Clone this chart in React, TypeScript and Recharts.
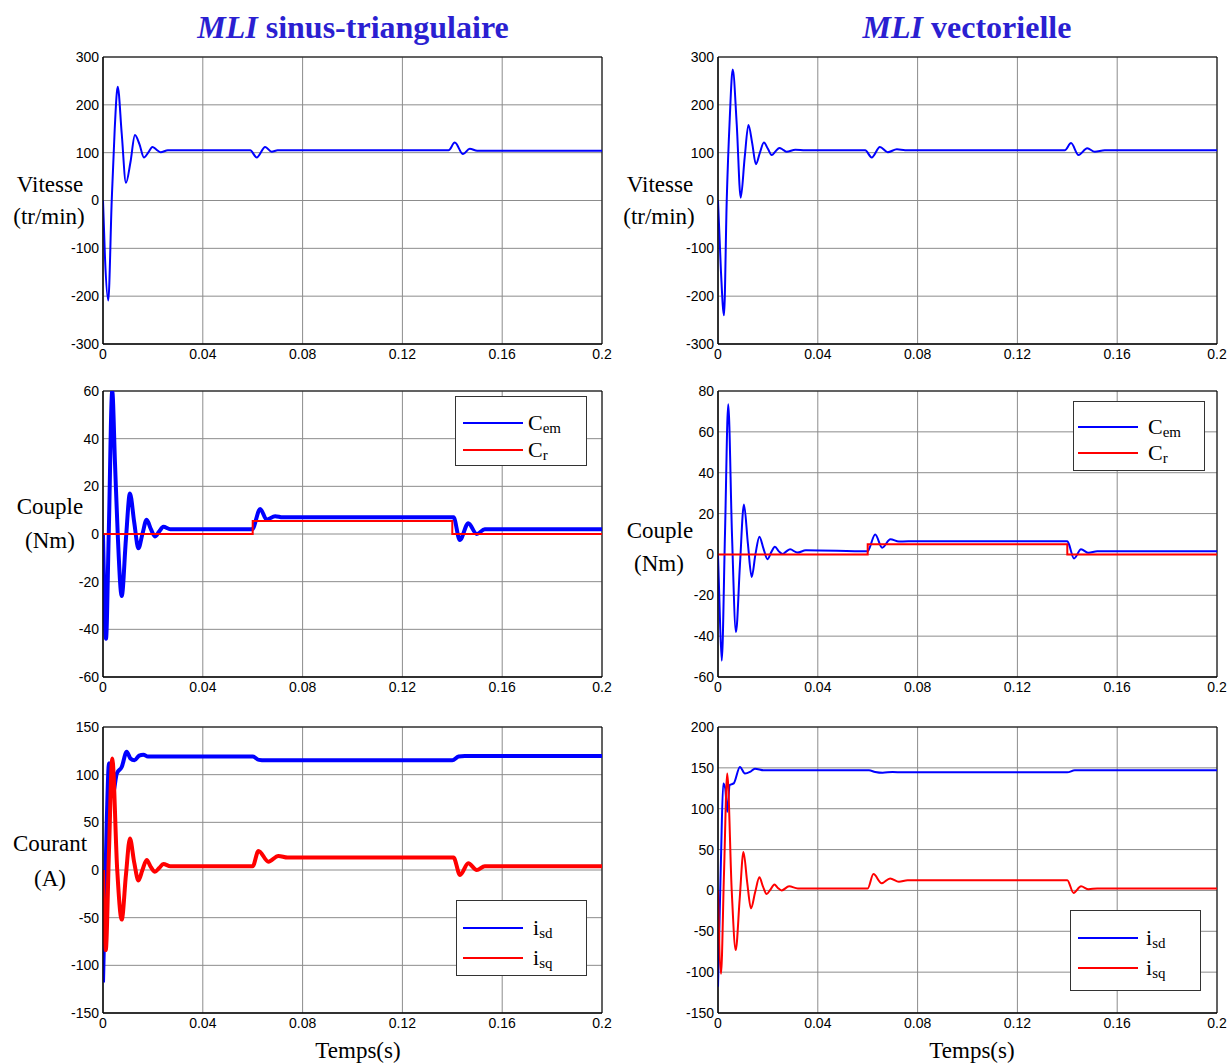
import { LineChart, Line, XAxis, YAxis, CartesianGrid, ReferenceArea } from 'recharts'

// time axis (s)
const timeTicks = [0, 0.04, 0.08, 0.12, 0.16, 0.2]

// y ticks
const speedTicks = [-300, -200, -100, 0, 100, 200, 300]
const torqueTicksL = [-60, -40, -20, 0, 20, 40, 60]
const torqueTicksR = [-60, -40, -20, 0, 20, 40, 60, 80]
const currentTicksL = [-150, -100, -50, 0, 50, 100, 150]
const currentTicksR = [-150, -100, -50, 0, 50, 100, 150, 200]

// MLI sinus-triangulaire : vitesse
const speedL_t = [0, 0.0008, 0.0021, 0.0035, 0.0047, 0.0059, 0.0075, 0.0092, 0.011, 0.0128, 0.0146, 0.0164, 0.0181, 0.0198, 0.0215, 0.0231, 0.026, 0.04, 0.059, 0.0616, 0.065, 0.0676, 0.07, 0.1, 0.1385, 0.141, 0.1443, 0.147, 0.15, 0.2]
const speedL_v = [0, -120, -209, 0, 150, 238, 140, 37, 80, 137, 118, 90, 100, 112, 106, 101, 105, 105, 105, 90, 112, 102, 105, 105, 105, 121, 97, 108, 104, 104]

// MLI vectorielle : vitesse
const speedR_t = [0, 0.0012, 0.0024, 0.0035, 0.0047, 0.0059, 0.0075, 0.0091, 0.0107, 0.0122, 0.0137, 0.0152, 0.0168, 0.0184, 0.02, 0.0215, 0.0231, 0.0246, 0.0261, 0.0275, 0.031, 0.035, 0.059, 0.0616, 0.0649, 0.068, 0.0717, 0.075, 0.139, 0.1415, 0.1445, 0.148, 0.151, 0.155, 0.2]
const speedR_v = [0, -150, -240, 0, 170, 274, 160, 6, 90, 158, 120, 76, 100, 121, 108, 95, 103, 110, 106, 102, 106, 105, 105, 90, 112, 101, 107, 105, 105, 120, 95, 109, 102, 105, 105]

// couple, sinus-triangulaire
const cemL_t = [0, 0.0006, 0.0012, 0.0023, 0.0037, 0.0048, 0.0059, 0.0075, 0.0092, 0.0108, 0.0125, 0.0142, 0.0158, 0.0175, 0.0192, 0.0208, 0.0225, 0.0242, 0.027, 0.0598, 0.063, 0.0656, 0.069, 0.072, 0.1405, 0.143, 0.1464, 0.1498, 0.153, 0.2]
const cemL_v = [0, -30, -44, 0, 60, 30, 0, -26, -2, 17, 5, -6, 0, 6, 2, -1, 1, 3, 2, 2, 10.5, 6, 7.5, 7, 7, -2.5, 4.5, 0, 2, 2]
const crL_t = [0, 0.06, 0.06, 0.14, 0.14, 0.2]
const crL_v = [0, 0, 5.5, 5.5, 0, 0]

// couple, vectorielle
const cemR_t = [0, 0.0005, 0.0015, 0.0028, 0.0041, 0.0056, 0.0072, 0.0088, 0.0104, 0.012, 0.0135, 0.015, 0.0166, 0.0182, 0.0198, 0.0213, 0.0228, 0.0244, 0.0259, 0.0274, 0.0289, 0.0318, 0.0352, 0.06, 0.0605, 0.063, 0.0658, 0.0691, 0.0725, 0.08, 0.14, 0.1405, 0.1427, 0.1455, 0.1485, 0.152, 0.2]
const cemR_v = [0, -20, -52, 10, 73.5, 10, -38, -5, 24.5, 5, -11, 0, 8.7, 3, -2.3, 1, 3.8, 1.5, 0.2, 1.5, 2.5, 0.9, 2, 1.5, 2.5, 9.8, 3.3, 7.4, 6.3, 6.5, 6.5, 5.5, -2, 2.5, 0.8, 1.5, 1.5]
const crR_t = [0, 0.06, 0.06, 0.14, 0.14, 0.2]
const crR_v = [0, 0, 5, 5, 0, 0]

// courants, sinus-triangulaire
const isdL_t = [0, 0.0015, 0.0024, 0.0032, 0.0041, 0.0055, 0.0075, 0.0095, 0.011, 0.0126, 0.0145, 0.0162, 0.018, 0.06, 0.0625, 0.065, 0.14, 0.1425, 0.145, 0.2]
const isdL_v = [-118, 50, 112, 108, 82, 101, 108, 124, 117, 115, 120, 121, 119, 119, 115.5, 115, 115, 119, 119.5, 119.5]
const isqL_t = [0, 0.0011, 0.0024, 0.0037, 0.0057, 0.0075, 0.0092, 0.0108, 0.0125, 0.0142, 0.0158, 0.0175, 0.0192, 0.0208, 0.0225, 0.0242, 0.027, 0.06, 0.0623, 0.0663, 0.0703, 0.074, 0.1405, 0.1431, 0.1464, 0.1498, 0.153, 0.2]
const isqL_v = [0, -84, 20, 117, 0, -52, -5, 33, 8, -11, 0, 10.5, 3, -1.8, 2, 6.3, 4, 4, 20, 8.7, 14.7, 13, 13, -5.2, 7, 0, 4, 4]

// courants, vectorielle
const isdR_t = [0, 0.0012, 0.0021, 0.0029, 0.0037, 0.0047, 0.0063, 0.0088, 0.0108, 0.0128, 0.0148, 0.0184, 0.0605, 0.063, 0.066, 0.07, 0.074, 0.14, 0.143, 0.2]
const isdR_v = [-118, 40, 131, 125, 96, 129, 131, 151, 143, 145, 149, 147, 147, 145, 144, 145, 144.5, 144.5, 147, 147]
const isqR_t = [0, 0.0012, 0.0024, 0.0037, 0.0055, 0.0071, 0.0087, 0.0102, 0.0117, 0.0132, 0.0149, 0.0166, 0.018, 0.0195, 0.021, 0.0226, 0.024, 0.0255, 0.0285, 0.032, 0.06, 0.0623, 0.0656, 0.069, 0.0725, 0.076, 0.14, 0.1425, 0.1455, 0.1485, 0.152, 0.2]
const isqR_v = [0, -102, 20, 143, 0, -73, -10, 47, 10, -22, -2, 16, 5, -4.4, 1, 7.4, 3, 0, 5, 2.5, 2.5, 20, 8.7, 14.7, 10.6, 12.5, 12.5, -3, 5, 1.5, 2.5, 2.5]

const BLUE = '#0000ff'
const RED = '#ff0000'
const TITLE = '#2b1fd1'
const serif = "'Liberation Serif', 'Times New Roman', serif"
const sans = "'Liberation Sans', Arial, sans-serif"

const pts = (t: number[], v: number[]) => t.map((x, i) => ({ t: x, v: v[i] }))

type Series = { t: number[]; v: number[]; color: string; width: number; linear?: boolean }

const tickStyle = { fill: '#000', fontSize: 14, fontFamily: sans }

function Panel({ x, y, h, right, yMin, yMax, yTicks, series }: {
  x: number; y: number; h: number; right: number; yMin: number; yMax: number; yTicks: number[]; series: Series[]
}) {
  return (
    <div style={{ position: 'absolute', left: x - 43, top: y - 8 }}>
      <LineChart width={43 + 499 + right} height={8 + h + 24} margin={{ top: 8, right, bottom: 0, left: 0 }}>
        <CartesianGrid stroke="#8c8c8c" strokeWidth={1} />
        <XAxis
          dataKey="t"
          type="number"
          domain={[0, 0.2]}
          ticks={timeTicks}
          interval={0}
          allowDataOverflow
          height={24}
          tickLine={false}
          tickSize={0}
          tickMargin={5}
          tick={tickStyle}
          axisLine={{ stroke: '#000' }}
        />
        <YAxis
          type="number"
          domain={[yMin, yMax]}
          ticks={yTicks}
          interval={0}
          allowDataOverflow
          width={43}
          tickLine={false}
          tickSize={0}
          tickMargin={4}
          tick={tickStyle}
          axisLine={{ stroke: '#000' }}
        />
        <ReferenceArea x1={0} x2={0.2} y1={yMin} y2={yMax} fill="none" stroke="#000" strokeWidth={1} />
        {series.map((s, i) => (
          <Line
            key={i}
            data={pts(s.t, s.v)}
            dataKey="v"
            type={s.linear ? 'linear' : 'monotone'}
            stroke={s.color}
            strokeWidth={s.width}
            dot={false}
            activeDot={false}
            isAnimationActive={false}
          />
        ))}
      </LineChart>
    </div>
  )
}

type LegendItem = { color: string; main: string; sub: string }

function LegendBox({ x, y, w, h, rows, lineX, textX, items }: {
  x: number; y: number; w: number; h: number; rows: number[]; lineX: number[]; textX: number; items: LegendItem[]
}) {
  return (
    <svg style={{ position: 'absolute', left: x, top: y }} width={w} height={h}>
      <rect x={0.5} y={0.5} width={w - 1} height={h - 1} fill="#fff" stroke="#333" />
      {items.map((it, i) => (
        <g key={i}>
          <line x1={lineX[0]} x2={lineX[1]} y1={rows[i]} y2={rows[i]} stroke={it.color} strokeWidth={2} />
          <text x={textX} y={rows[i] + 7} fontFamily={serif} fontSize={22} fill="#000">
            {it.main}
            <tspan fontSize={15} dy={3}>{it.sub}</tspan>
          </text>
        </g>
      ))}
    </svg>
  )
}

function Label({ x, y, size, children, color, weight }: {
  x: number; y: number; size: number; children: React.ReactNode; color?: string; weight?: number
}) {
  return (
    <div
      style={{
        position: 'absolute',
        left: x,
        top: y,
        transform: 'translate(-50%, -50%)',
        fontFamily: serif,
        fontSize: size,
        lineHeight: 1,
        whiteSpace: 'nowrap',
        color: color || '#000',
        fontWeight: weight || 400,
      }}
    >
      {children}
    </div>
  )
}

const cemItems = [
  { color: BLUE, main: 'C', sub: 'em' },
  { color: RED, main: 'C', sub: 'r' },
]
const isItems = [
  { color: BLUE, main: 'i', sub: 'sd' },
  { color: RED, main: 'i', sub: 'sq' },
]

export default function App() {
  return (
    <div style={{ position: 'absolute', left: 0, top: 0, width: 1228, height: 1063, background: '#fff', overflow: 'hidden' }}>
      <Label x={353} y={27} size={32} color={TITLE} weight={700}>
        <i>MLI</i> sinus-triangulaire
      </Label>
      <Label x={967} y={27} size={32} color={TITLE} weight={700}>
        <i>MLI</i> vectorielle
      </Label>

      {/* sinus-triangulaire */}
      <Panel x={103} y={57} h={287} right={20} yMin={-300} yMax={300} yTicks={speedTicks}
        series={[{ t: speedL_t, v: speedL_v, color: BLUE, width: 2 }]} />
      <Panel x={103} y={391} h={286} right={20} yMin={-60} yMax={60} yTicks={torqueTicksL}
        series={[
          { t: cemL_t, v: cemL_v, color: BLUE, width: 4 },
          { t: crL_t, v: crL_v, color: RED, width: 2, linear: true },
        ]} />
      <Panel x={103} y={727} h={286} right={20} yMin={-150} yMax={150} yTicks={currentTicksL}
        series={[
          { t: isdL_t, v: isdL_v, color: BLUE, width: 4 },
          { t: isqL_t, v: isqL_v, color: RED, width: 4 },
        ]} />

      {/* vectorielle */}
      <Panel x={718} y={57} h={287} right={10} yMin={-300} yMax={300} yTicks={speedTicks}
        series={[{ t: speedR_t, v: speedR_v, color: BLUE, width: 2 }]} />
      <Panel x={718} y={391} h={286} right={10} yMin={-60} yMax={80} yTicks={torqueTicksR}
        series={[
          { t: cemR_t, v: cemR_v, color: BLUE, width: 2 },
          { t: crR_t, v: crR_v, color: RED, width: 2, linear: true },
        ]} />
      <Panel x={718} y={727} h={286} right={10} yMin={-150} yMax={200} yTicks={currentTicksR}
        series={[
          { t: isdR_t, v: isdR_v, color: BLUE, width: 2 },
          { t: isqR_t, v: isqR_v, color: RED, width: 2 },
        ]} />

      <LegendBox x={455} y={396} w={132} h={70} rows={[27, 54]} lineX={[8, 68]} textX={73} items={cemItems} />
      <LegendBox x={1073} y={401} w={132} h={70} rows={[26, 52]} lineX={[5, 65]} textX={75} items={cemItems} />
      <LegendBox x={456} y={900} w={131} h={76} rows={[28, 58]} lineX={[7, 67]} textX={77} items={isItems} />
      <LegendBox x={1070} y={910} w={131} h={81} rows={[28, 58]} lineX={[8, 68]} textX={76} items={isItems} />

      <Label x={50} y={184} size={23}>Vitesse</Label>
      <Label x={49} y={216} size={23}>(tr/min)</Label>
      <Label x={50} y={506} size={23}>Couple</Label>
      <Label x={50} y={540} size={23}>(Nm)</Label>
      <Label x={50} y={843} size={23}>Courant</Label>
      <Label x={50} y={878} size={23}>(A)</Label>
      <Label x={660} y={184} size={23}>Vitesse</Label>
      <Label x={659} y={216} size={23}>(tr/min)</Label>
      <Label x={660} y={530} size={23}>Couple</Label>
      <Label x={659} y={563} size={23}>(Nm)</Label>

      <Label x={358} y={1050} size={23}>Temps(s)</Label>
      <Label x={972} y={1050} size={23}>Temps(s)</Label>
    </div>
  )
}
